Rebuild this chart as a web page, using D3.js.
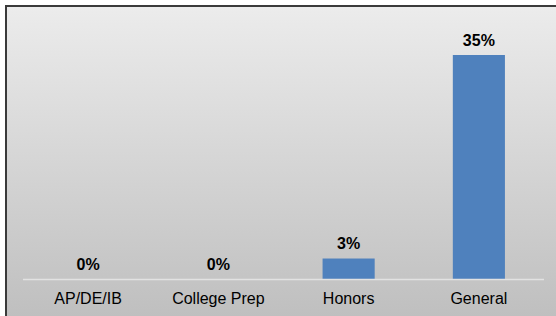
<!DOCTYPE html>
<html>
<head>
<meta charset="utf-8">
<script src="https://cdn.jsdelivr.net/npm/d3@7"></script>
<style>
  html, body { margin: 0; padding: 0; background: #fff; }
  svg { display: block; }
</style>
</head>
<body>
<div id="chart"></div>
<script>
const categories = ["AP/DE/IB", "College Prep", "Honors", "General"];
const values = [0, 0, 3.2, 35];
const valueLabels = ["0%", "0%", "3%", "35%"];

const width = 556, height = 316;

const svg = d3.select("#chart")
  .append("svg")
  .attr("width", width)
  .attr("height", height);

const defs = svg.append("defs");
const grad = defs.append("linearGradient")
  .attr("id", "bg")
  .attr("x1", 0).attr("y1", 0)
  .attr("x2", 0).attr("y2", 1);
grad.append("stop").attr("offset", "0%").attr("stop-color", "#ececec");
grad.append("stop").attr("offset", "100%").attr("stop-color", "#bdbdbd");

// chart area background (cropped at right/bottom edge)
svg.append("rect")
  .attr("x", 5)
  .attr("y", 5)
  .attr("width", width)
  .attr("height", height + 10)
  .attr("fill", "url(#bg)");

svg.append("path")
  .attr("d", `M6,${height} V6 H${width}`)
  .attr("fill", "none")
  .attr("stroke", "#3a3a3a")
  .attr("stroke-width", 2);

const x = d3.scaleBand()
  .domain(categories)
  .range([23, 544])
  .paddingInner(0.6)
  .paddingOuter(0.3);

const y = d3.scaleLinear()
  .domain([0, 40])
  .range([279, 23]);

svg.append("g")
  .selectAll("rect")
  .data(values)
  .join("rect")
  .attr("x", (d, i) => x(categories[i]))
  .attr("y", (d) => y(d))
  .attr("width", x.bandwidth())
  .attr("height", (d) => y(0) - y(d))
  .attr("fill", "#4f81bd");

// category axis line
svg.append("line")
  .attr("x1", 23)
  .attr("x2", 544)
  .attr("y1", y(0) + 0.5)
  .attr("y2", y(0) + 0.5)
  .attr("stroke", "#e2e2e2")
  .attr("stroke-width", 1.5);

svg.append("g")
  .attr("font-family", "Liberation Sans, Arial, sans-serif")
  .attr("font-size", 16)
  .attr("font-weight", "bold")
  .attr("text-anchor", "middle")
  .attr("fill", "#000")
  .selectAll("text")
  .data(values)
  .join("text")
  .attr("x", (d, i) => x(categories[i]) + x.bandwidth() / 2)
  .attr("y", (d) => y(d) - 9.5)
  .text((d, i) => valueLabels[i]);

svg.append("g")
  .attr("font-family", "Liberation Sans, Arial, sans-serif")
  .attr("font-size", 16)
  .attr("text-anchor", "middle")
  .attr("fill", "#000")
  .selectAll("text")
  .data(categories)
  .join("text")
  .attr("x", (d) => x(d) + x.bandwidth() / 2)
  .attr("y", 303.5)
  .text((d) => d);
</script>
</body>
</html>
